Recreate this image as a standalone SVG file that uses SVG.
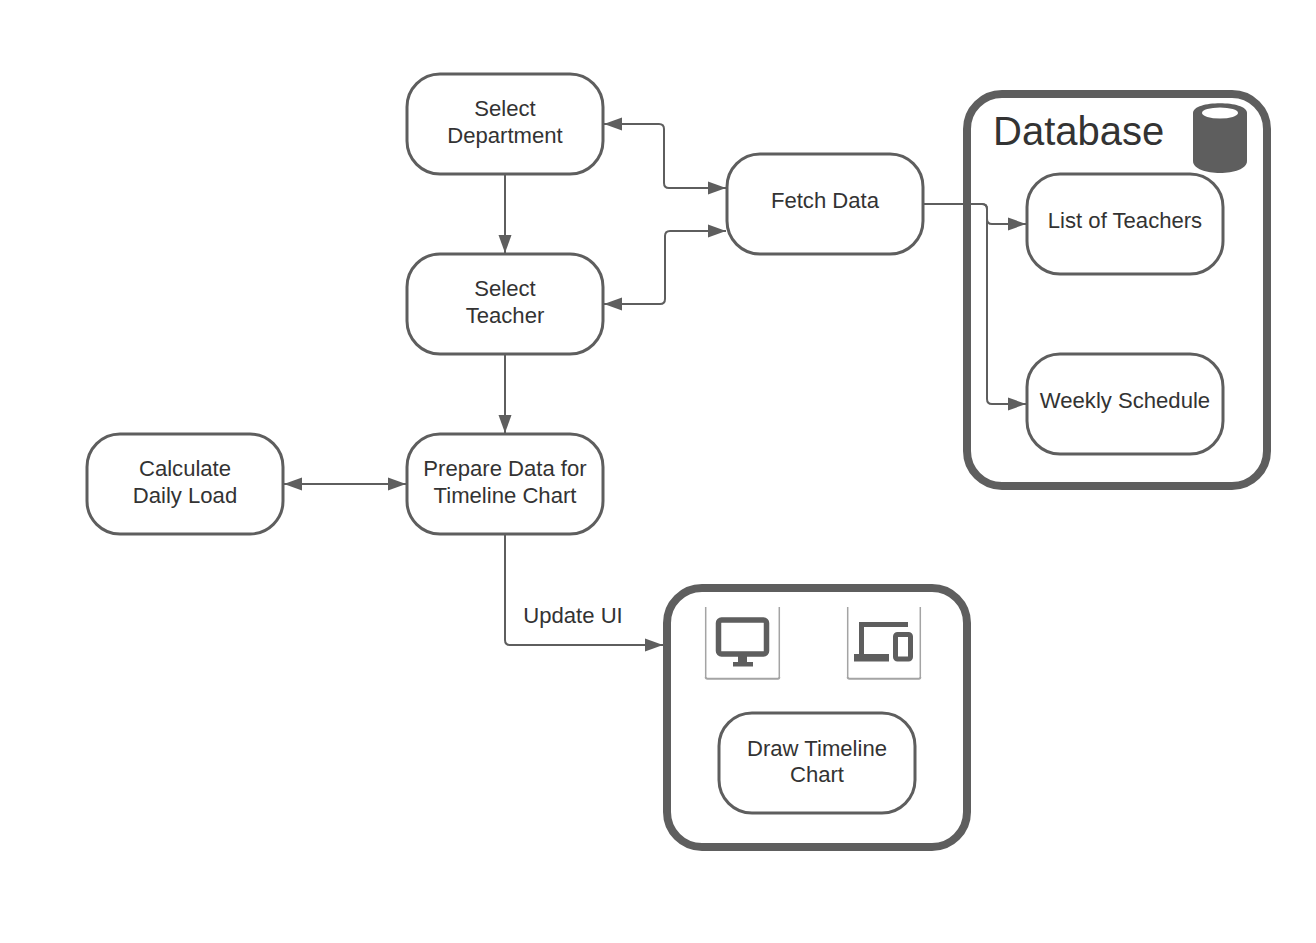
<svg xmlns="http://www.w3.org/2000/svg" width="1316" height="943" viewBox="0 0 1316 943">
<style>
text{font-family:"Liberation Sans",Arial,sans-serif;font-size:22.1px;fill:#333;text-anchor:middle}
.n{fill:#fff;stroke:#5e5e5e;stroke-width:3}
.c{fill:#fff;stroke:#5e5e5e;stroke-width:8}
.l{fill:none;stroke:#5e5e5e;stroke-width:2}
.f{fill:#5e5e5e}
.fr{fill:none;stroke:#a4a4a4;stroke-width:1.500}
.fb{fill:none;stroke:#a4a4a4;stroke-width:2}
</style>
<defs>
<marker id="a" markerUnits="userSpaceOnUse" markerWidth="20" markerHeight="15" refX="19" refY="7" orient="auto-start-reverse"><path d="M1 0.500L19 7L1 13.500Z" fill="#5e5e5e"/></marker>
</defs>
<rect width="1316" height="943" fill="#fff"/>
<g id="database">
<rect class="c" x="967" y="94" width="300" height="392" rx="35"/>
<text x="993" y="145" style="font-size:40px;text-anchor:start">Database</text>
<g id="db-icon">
<path class="f" d="M1193 113C1193 100 1247 100 1247 113V161C1247 177 1193 177 1193 161Z"/>
<ellipse cx="1220" cy="113" rx="18" ry="5.500" fill="#fff"/>
</g>
</g>
<g id="ui">
<rect class="c" x="667" y="588" width="300" height="259" rx="35"/>
<g id="desktop-icon">
<path class="fr" d="M705.700 607V677M779.300 607V677"/>
<path class="fb" d="M705.700 677Q705.700 678.800 707.500 678.800H778Q779.300 678.800 779.300 677"/>
<rect x="718.500" y="620" width="48" height="34" rx="3" fill="none" stroke="#5e5e5e" stroke-width="5.500"/>
<rect class="f" x="738" y="656" width="9" height="6"/>
<rect class="f" x="733" y="662" width="20" height="4.500"/>
</g>
<g id="devices-icon">
<path class="fr" d="M847.700 607V677M920.300 607V677"/>
<path class="fb" d="M847.700 677Q847.700 678.800 849.500 678.800H919Q920.300 678.800 920.300 677"/>
<path d="M908 624.500H861.500V656" fill="none" stroke="#5e5e5e" stroke-width="5"/>
<rect class="f" x="854" y="654" width="35" height="7.500"/>
<rect x="895.500" y="634.500" width="15" height="24.500" rx="2" fill="none" stroke="#5e5e5e" stroke-width="5"/>
</g>
</g>
<g id="connectors">
<path class="l" d="M505 175V253" marker-end="url(#a)"/>
<path class="l" d="M505 355V433" marker-end="url(#a)"/>
<path class="l" d="M284 484H406" marker-start="url(#a)" marker-end="url(#a)"/>
<path class="l" d="M604 124H659Q664 124 664 129V183Q664 188 669 188H726" marker-start="url(#a)" marker-end="url(#a)"/>
<path class="l" d="M604 304H660Q665 304 665 299V236Q665 231 670 231H726" marker-start="url(#a)" marker-end="url(#a)"/>
<path class="l" d="M924 204H982Q987 204 987 209V219Q987 224 992 224H1026" marker-end="url(#a)"/>
<path class="l" d="M924 204H982Q987 204 987 209V399Q987 404 992 404H1026" marker-end="url(#a)"/>
<path class="l" d="M505 535V640Q505 645 510 645H663" marker-end="url(#a)"/>
</g>
<g id="select-department"><rect class="n" x="407" y="74" width="196" height="100" rx="33"/><text x="505" y="116">Select</text><text x="505" y="143">Department</text></g>
<g id="select-teacher"><rect class="n" x="407" y="254" width="196" height="100" rx="33"/><text x="505" y="296">Select</text><text x="505" y="323">Teacher</text></g>
<g id="prepare-data"><rect class="n" x="407" y="434" width="196" height="100" rx="33"/><text x="505" y="476">Prepare Data for</text><text x="505" y="503">Timeline Chart</text></g>
<g id="calculate-load"><rect class="n" x="87" y="434" width="196" height="100" rx="33"/><text x="185" y="476">Calculate</text><text x="185" y="503">Daily Load</text></g>
<g id="fetch-data"><rect class="n" x="727" y="154" width="196" height="100" rx="33"/><text x="825" y="207.500">Fetch Data</text></g>
<g id="list-teachers"><rect class="n" x="1027" y="174" width="196" height="100" rx="33"/><text x="1125" y="227.500">List of Teachers</text></g>
<g id="weekly-schedule"><rect class="n" x="1027" y="354" width="196" height="100" rx="33"/><text x="1125" y="407.500">Weekly Schedule</text></g>
<g id="draw-timeline"><rect class="n" x="719" y="713" width="196" height="100" rx="33"/><text x="817" y="755.500">Draw Timeline</text><text x="817" y="782">Chart</text></g>
<text id="update-ui" x="573" y="623">Update UI</text>
</svg>
